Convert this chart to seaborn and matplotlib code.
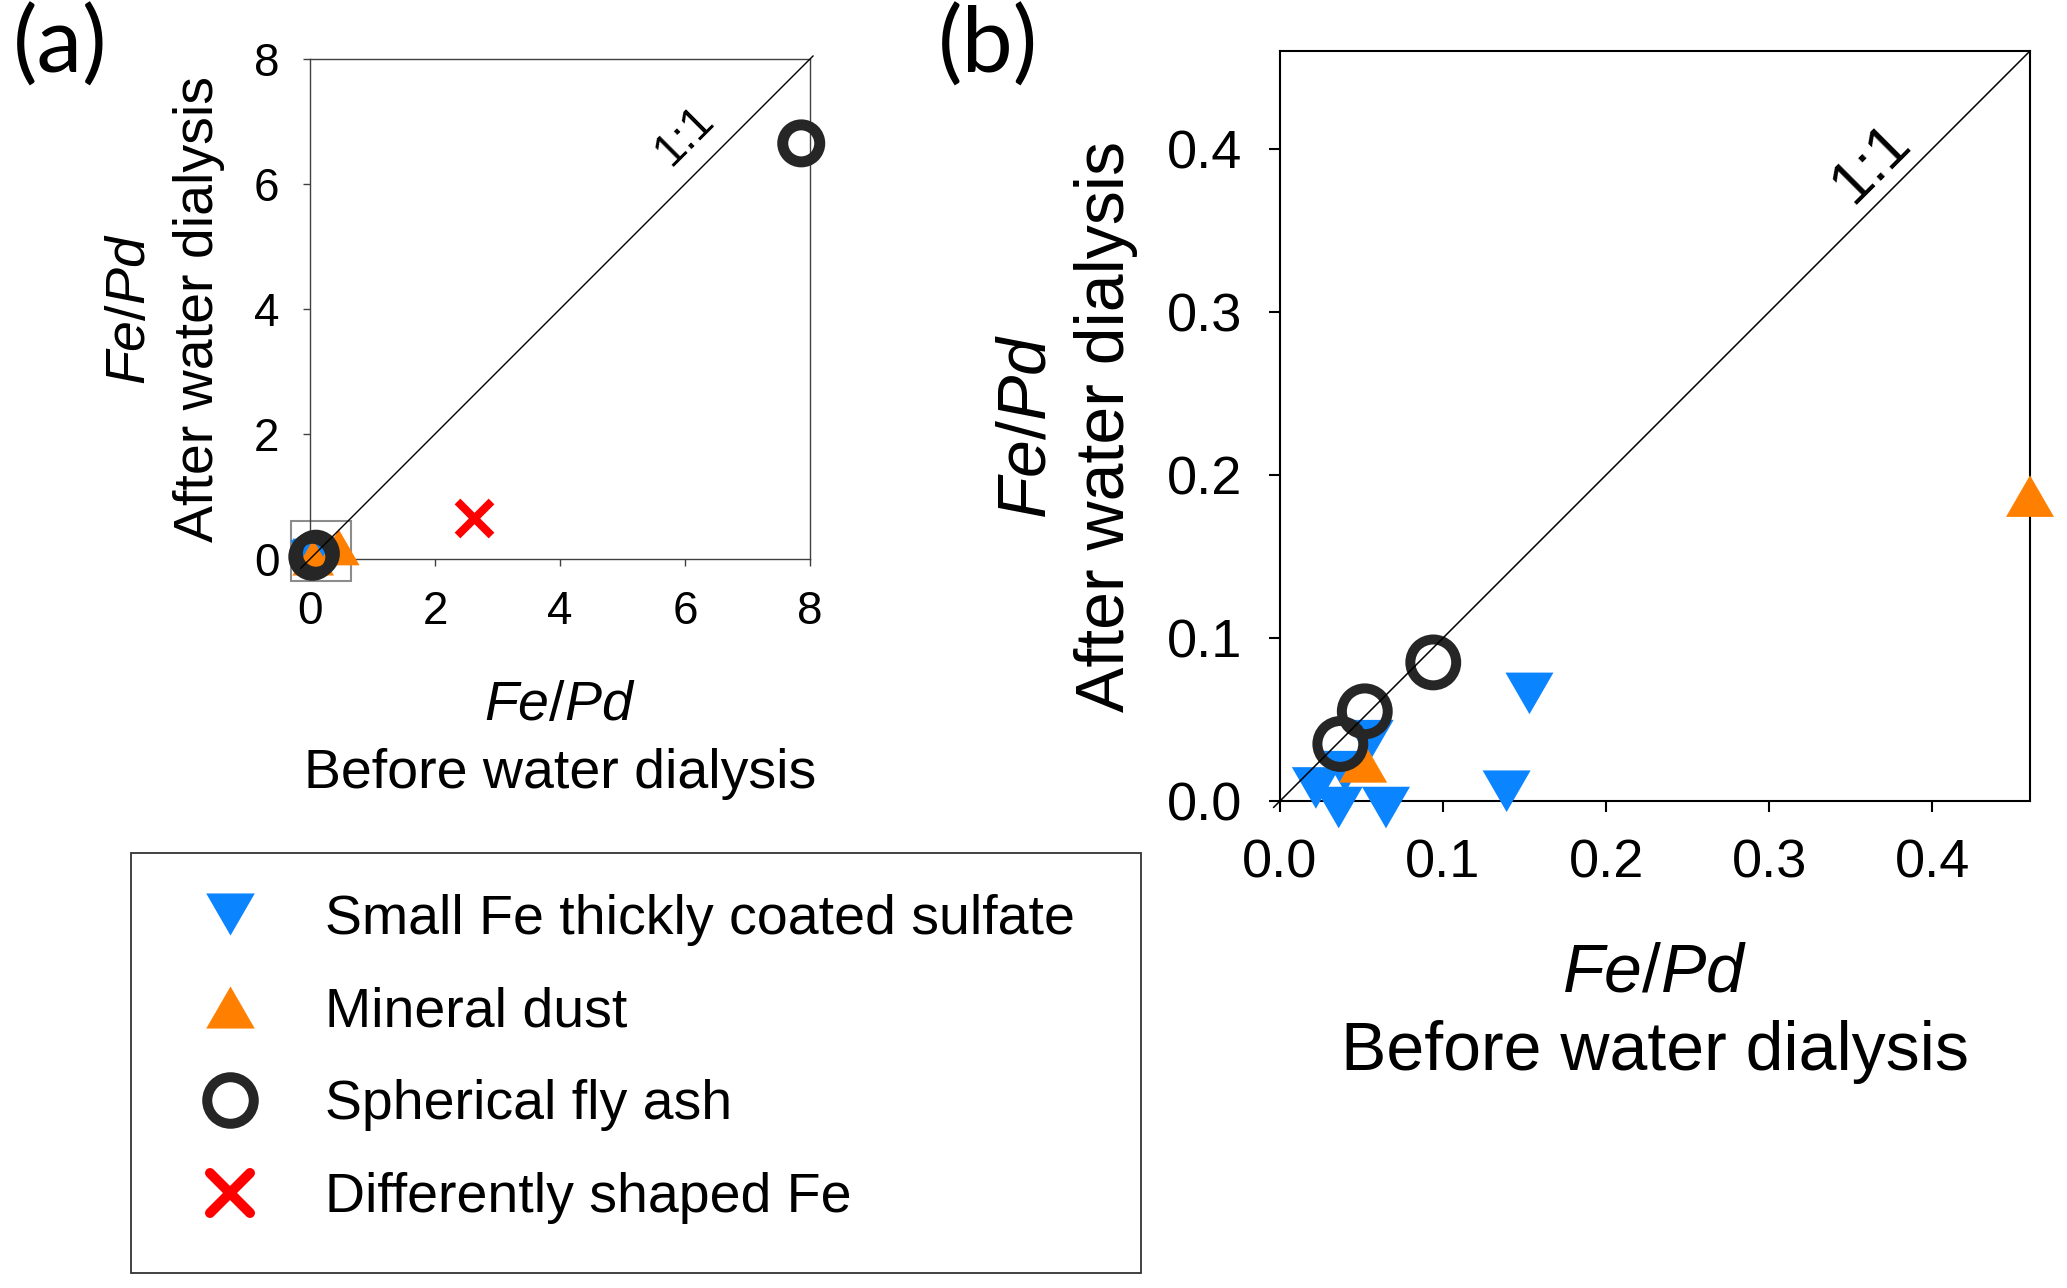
import matplotlib
matplotlib.use("Agg")
import matplotlib.pyplot as plt
import seaborn as sns
from matplotlib.path import Path
from matplotlib.markers import MarkerStyle
from matplotlib.lines import Line2D
from matplotlib.patches import Rectangle

# Fe/Pd ratios (before / after water dialysis)
sulfate_before = [0.153, 0.139, 0.065, 0.036, 0.022, 0.055, 0.040]
sulfate_after = [0.066, 0.006, -0.004, -0.004, 0.008, 0.037, 0.018]
dust_before = [0.051, 0.460]
dust_after = [0.024, 0.187]
flyash_before = [0.094, 0.052, 0.037, 7.86]
flyash_after = [0.085, 0.055, 0.035, 6.65]
other_before = [2.62]
other_after = [0.65]

group_labels = ["Small Fe thickly coated sulfate", "Mineral dust",
                "Spherical fly ash", "Differently shaped Fe"]
group_colors = ["#0a84ff", "#ff8000", "#262626", "#ff0000"]

a_ticks = [0, 2, 4, 6, 8]
b_ticks = [0.0, 0.1, 0.2, 0.3, 0.4]

sns.set_style("ticks")
plt.rcParams["font.family"] = ["Liberation Sans", "DejaVu Sans"]
plt.rcParams["mathtext.fontset"] = "custom"
plt.rcParams["mathtext.rm"] = "Liberation Sans"
plt.rcParams["mathtext.it"] = "Liberation Sans:italic"
for key in ["text.color", "axes.labelcolor", "xtick.color", "ytick.color",
            "xtick.labelcolor", "ytick.labelcolor"]:
    plt.rcParams[key] = "black"

# equilateral triangles (matplotlib's own are as tall as wide)
tri_down = MarkerStyle(Path([(-1, 0.866), (1, 0.866), (0, -0.866), (-1, 0.866)],
                            [Path.MOVETO, Path.LINETO, Path.LINETO, Path.CLOSEPOLY]))
tri_up = MarkerStyle(Path([(-1, -0.866), (1, -0.866), (0, 0.866), (-1, -0.866)],
                          [Path.MOVETO, Path.LINETO, Path.LINETO, Path.CLOSEPOLY]))
x_mark = MarkerStyle("x", capstyle="round")


def keep(xs, ys, lim):
    pts = [(x, y) for x, y in zip(xs, ys) if x <= lim + 1e-9]
    return [p[0] for p in pts], [p[1] for p in pts]


def draw_points(ax, lim, tri_s, ring_s, ring_lw, x_s, x_lw):
    x, y = keep(sulfate_before, sulfate_after, lim)
    sns.scatterplot(x=x, y=y, ax=ax, marker=tri_down, s=tri_s, color=group_colors[0],
                    linewidth=0, edgecolor="none", clip_on=False, zorder=3)
    x, y = keep(dust_before, dust_after, lim)
    sns.scatterplot(x=x, y=y, ax=ax, marker=tri_up, s=tri_s, color=group_colors[1],
                    linewidth=0, edgecolor="none", clip_on=False, zorder=4)
    x, y = keep(flyash_before, flyash_after, lim)
    sns.scatterplot(x=x, y=y, ax=ax, marker="o", s=ring_s, color=group_colors[2],
                    facecolor="none", edgecolor=group_colors[2], linewidth=ring_lw,
                    clip_on=False, zorder=5)
    x, y = keep(other_before, other_after, lim)
    if x:
        sns.scatterplot(x=x, y=y, ax=ax, marker=x_mark, s=x_s, color=group_colors[3],
                        linewidth=x_lw, clip_on=False, zorder=6)


fig = plt.figure(figsize=(20.67, 12.88), dpi=100)

# ---- panel (a): full range
ax_a = fig.add_axes([310 / 2067, 1 - 559 / 1288, 500 / 2067, 500 / 1288])
ax_a.add_patch(Rectangle((-0.31, -0.35), 0.96, 0.95, fill=False, ec="#8c8c8c",
                         lw=1.5, clip_on=False, zorder=2))
draw_points(ax_a, 100, tri_s=900, ring_s=710, ring_lw=7.9, x_s=600, x_lw=5.8)
ax_a.plot([-0.15, 8.05], [-0.15, 8.05], color="black", lw=1.0, clip_on=False, zorder=7)
ax_a.text(6.0, 6.77, "1:1", rotation=45, ha="center", va="center",
          rotation_mode="anchor", fontsize=33)
ax_a.set_xlim(0, 8)
ax_a.set_ylim(0, 8)
ax_a.set_xticks(a_ticks)
ax_a.set_yticks(a_ticks)
ax_a.tick_params(direction="out", length=5, width=1, labelsize=33, pad=17,
                 color="#404040", labelcolor="black")
for sp in ax_a.spines.values():
    sp.set_linewidth(1.0)
    sp.set_color("#404040")
ax_a.set_xlabel("$\\mathit{Fe/Pd}$\nBefore water dialysis", fontsize=40, linespacing=1.4)
ax_a.set_ylabel("$\\mathit{Fe/Pd}$\nAfter water dialysis", fontsize=40, linespacing=1.4)
ax_a.xaxis.set_label_coords(0.5, -0.242)
ax_a.yaxis.set_label_coords(-0.17, 0.5)

# ---- panel (b): zoom near the origin
ax_b = fig.add_axes([1280 / 2067, 1 - 801 / 1288, 750 / 2067, 750 / 1288])
draw_points(ax_b, 0.46, tri_s=1195, ring_s=1090, ring_lw=7.2, x_s=870, x_lw=7.2)
ax_b.plot([-0.004, 0.46], [-0.004, 0.46], color="black", lw=1.1, clip_on=False, zorder=7)
ax_b.text(0.363, 0.391, "1:1", rotation=45, ha="center", va="center",
          rotation_mode="anchor", fontsize=44)
ax_b.set_xlim(0, 0.46)
ax_b.set_ylim(0, 0.46)
ax_b.set_xticks(b_ticks)
ax_b.set_yticks(b_ticks)
ax_b.set_xticklabels([f"{t:.1f}" for t in b_ticks])
ax_b.set_yticklabels([f"{t:.1f}" for t in b_ticks])
ax_b.tick_params(direction="out", length=8, width=1.5, labelsize=39, pad=19,
                 color="black", labelcolor="black")
for sp in ax_b.spines.values():
    sp.set_linewidth(1.5)
    sp.set_color("black")
ax_b.set_xlabel("$\\mathit{Fe/Pd}$\nBefore water dialysis", fontsize=49, linespacing=1.28)
ax_b.set_ylabel("$\\mathit{Fe/Pd}$\nAfter water dialysis", fontsize=49, linespacing=1.28)
ax_b.xaxis.set_label_coords(0.5, -0.188)
ax_b.yaxis.set_label_coords(-0.19, 0.5)

# panel letters
fig.text(13 / 2067, 1 - 4 / 1288, "(a)", ha="left", va="top", fontsize=66,
         family=["Lato", "DejaVu Sans"])
fig.text(938 / 2067, 1 - 4 / 1288, "(b)", ha="left", va="top", fontsize=66,
         family=["Lato", "DejaVu Sans"])

# legend box and entries
fig.patches.append(Rectangle((131 / 2067, 1 - 1273 / 1288), 1010 / 2067, 420 / 1288,
                             transform=fig.transFigure, fill=False, ec="#333333",
                             lw=1.3))
handles = [
    Line2D([], [], ls="none", marker=tri_down, ms=35, color=group_colors[0], mew=0),
    Line2D([], [], ls="none", marker=tri_up, ms=35, color=group_colors[1], mew=0),
    Line2D([], [], ls="none", marker="o", ms=33.5, mfc="none", mec=group_colors[2], mew=7.2),
    Line2D([], [], ls="none", marker=x_mark, ms=29.5, color=group_colors[3], mew=7.2),
]
fig.legend(handles, group_labels, loc="center left",
           bbox_to_anchor=(202 / 2067, 1 - 1059 / 1288), frameon=False,
           fontsize=40, borderpad=0, borderaxespad=0, handlelength=1.0,
           handletextpad=1.21, labelspacing=0.735)

fig.savefig("out.png", dpi=100)
